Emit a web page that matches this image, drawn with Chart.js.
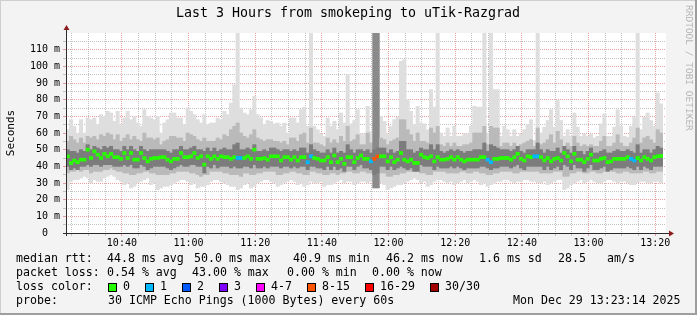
<!DOCTYPE html>
<html>
<head>
<meta charset="utf-8">
<script src="https://cdn.jsdelivr.net/npm/chart.js@4.4.1/dist/chart.umd.min.js"></script>
<style>
  html, body { margin: 0; padding: 0; background: #f3f3f3; }
  canvas { display: block; }
</style>
</head>
<body>
<canvas id="smoke" width="697" height="315"></canvas>
<script>
// one column per minute, last 3 hours ending 13:23:14
const endTime = '13:23:14';
const spanMinutes = 180;

const medianRtt = [
  46,42,43.5,42.5,44,44,50,45,49,47,
  45,47.5,46,47.5,45.5,45.5,44.5,48,45,48,
  44,44,48,45,43,44.5,45,45,45.5,45.5,
  44,43,44.5,44.5,48,45.5,45.5,46,48,45,
  46,41,46,44.5,46,44.5,46,45.5,45.5,44.5,
  45.5,45,45,45,46,44.5,50,44.5,44.5,45,
  44,46,46,46,43.5,45.5,45.5,44,45.5,43.5,
  45.5,45.5,42.5,46,45,44.5,43.5,43.5,45.5,42.5,
  46.5,42.5,44.5,41.5,45.5,45.5,42.5,45,46.5,44.5,
  44.5,43,44.5,46,46,46,43,45.5,42.5,44,
  48,44,43,44,42,42,47,45.5,45,46,
  43,45.5,44,44,44.5,45.5,44,45.5,44,43,
  44,44,44,44,45.5,45.5,44,42.5,44.5,44.5,
  45,45,45,44,45.5,47.5,44.5,43.5,46,45.5,
  46,46,45.5,43.5,45,43,44.5,45,43.5,48,
  46,43,47.5,44,44,42.5,44.5,47,43.5,43.5,
  44.5,45,42.5,43,44.5,44.5,44.5,44.5,45.5,44.5,
  43.5,45,43.5,45.5,44.5,43.5,45.5,46,46.2
];

const pingMax = [
  62,68,64,59.5,68,60,69,68,69,65,
  71,70,73,72,67,73,65,69,73,68,
  70,66,64,74,70,69,68,70,60,66,
  68,72,72,69,69,65,75,73,71,68,
  66,71,65,66,66,69,68,73,71,78,
  89,120,75,72,71,74,82,71,69,65,
  67.5,67,65.5,66,64,66,60,69,69,66,
  74,75.5,64,120,64,62,59.5,58,69,64,
  67,62,72,66,95,65.5,67.5,74,59.5,59.5,
  76,61,120,120,70,67,59.5,64,68,69.5,
  103,104,80,73,65,76,66,65.5,62,86,
  75.5,120,60,58,63,58,64,58,58,59.5,
  59.5,64,76,75.5,75.5,120,60,120,86,86,
  58,64,62,58,62,58,59.5,62,65,68,
  55.5,120,60,63.5,67.5,74,63.5,79.5,67.5,58,
  62,58,72,63.5,58,59.5,58,59.5,57,58,
  65.5,71.5,58,58,63.5,74,64,58,57.5,64,
  69.5,120,62,69.5,72,67.5,64,84,77.5
];

const pingMin = [
  26,31,32,32,33,34,33,30,32,31,
  31,33,34,35,34,32,31,29,30,27,
  28,30,31,32,33,29,30,26,27,28,
  28,29,30,31,32,32,31,29,30,27,
  28,28,29,31,32,32,31,30,29,28,
  28,26,27,29,30,27,28,30,31,32,
  32,31,30,28,29,30,31,32,31,29,
  30,28,29,31,30,30,31,28,29,29,
  30,31,32,30,31,31,29,30,31,31,
  30,31,27,27,30,29,26,27,28,29,
  29,30,31,32,33,32,30,31,28,29,
  31,32,32,31,30,31,29,30,31,32,
  30,31,32,31,29,30,28,29,30,31,
  31,32,32,31,30,31,31,32,32,31,
  31,30,30,31,29,30,31,32,32,26,
  27,29,30,31,32,30,31,32,31,30,
  30,31,32,32,31,30,31,31,30,29,
  29,30,31,31,30,30,31,31,30
];

const midHi = [
  55,58,56,54,57,54,58,57,58,56,
  59,58,60,59,56,59,55,57,59,56,
  58,56,55,60,57,57,56,57,53,55,
  56,58,58,57,57,55,60,59,58,56,
  55,57,55,55,55,57,56,59,58,62,
  64,66,60,58,57,59,62,57,56,55,
  56,56,55,55,54,55,53,57,57,55,
  59,60,54,63,54,54,53,52,57,54,
  56,54,58,55,64,55,56,59,53,53,
  60,54,120,120,57,56,53,55,56,57,
  68,68,62,59,55,60,55,55,54,63,
  60,64,53,52,54,52,54,52,52,53,
  53,54,60,60,60,64,53,64,63,63,
  52,54,54,52,54,52,53,54,55,56,
  52,63,53,54,56,59,54,61,56,52,
  54,52,58,54,52,53,52,53,52,52,
  55,58,52,52,54,59,54,52,52,54,
  57,63,54,57,58,56,54,62,60
];

const midLo = [
  36,37,37,38,37,38,38,36,37,37,
  37,38,38,39,38,37,37,36,36,35,
  35,36,36,37,37,36,36,35,35,35,
  35,36,36,37,37,37,37,36,36,35,
  34,35,35,37,37,37,37,36,36,35,
  35,35,34,36,36,35,35,36,36,37,
  37,37,37,35,35,36,36,37,37,36,
  36,35,35,37,37,36,36,35,35,36,
  36,35,36,36,37,37,36,36,37,37,
  36,36,27,27,36,36,34,34,35,35,
  36,36,37,37,37,37,36,36,35,35,
  37,37,37,37,36,36,36,36,37,37,
  36,36,37,37,36,36,35,35,36,36,
  37,37,37,37,36,36,37,37,37,37,
  37,37,36,36,36,36,37,37,37,34,
  34,36,36,37,37,36,36,37,37,36,
  36,37,37,37,37,36,36,37,37,36,
  36,36,36,37,37,36,36,37,37
];

const coreHi = [
  50,49,49,48,50,49,53,50,52,51,
  50,52,51,52,50,50,49,52,50,52,
  50,49,52,50,49,50,50,50,50,50,
  49,48,50,50,52,50,50,51,52,50,
  50,49,51,49,51,49,50,51,50,50,
  53,54,50,50,51,50,53,49,49,50,
  49,51,51,50,49,50,50,49,50,49,
  51,51,48,53,50,49,48,48,50,48,
  51,48,49,48,53,50,48,50,50,49,
  50,48,50,51,51,51,48,50,48,49,
  55,55,50,50,48,49,51,50,50,53,
  50,53,49,48,49,50,49,50,49,48,
  49,49,50,50,50,54,49,53,52,51,
  50,50,50,49,50,52,49,48,50,50,
  50,54,50,48,50,49,49,51,48,52,
  50,48,52,49,49,47,49,51,48,48,
  49,50,48,48,49,50,49,49,50,49,
  48,53,48,50,50,48,50,52,51
];

const coreLo = [
  40,38,39,38,40,40,41,40,41,41,
  40,41,41,41,40,40,40,41,40,41,
  39,39,41,40,38,39,40,40,40,40,
  39,38,39,40,41,40,40,41,41,40,
  40,36,40,39,41,39,40,40,40,39,
  40,39,39,40,40,39,41,39,39,40,
  39,40,40,40,39,40,40,39,40,39,
  40,40,38,40,40,39,39,38,40,38,
  40,38,39,37,40,40,38,40,41,39,
  39,38,35,36,40,40,38,40,38,39,
  40,39,38,39,37,37,41,40,40,40,
  38,40,39,39,39,40,39,40,39,38,
  39,39,39,39,40,40,39,38,39,39,
  40,40,40,39,40,41,39,38,40,40,
  40,40,40,38,40,38,39,40,38,41,
  40,38,41,39,39,37,39,41,38,38,
  39,40,37,38,39,39,39,39,40,39,
  38,40,38,40,39,38,40,40,40
];

// pings lost out of 30 in each column
const lostPings = [
  0,0,0,0,0,0,0,0,0,0,
  0,0,0,0,0,0,0,0,0,0,
  0,0,0,0,0,0,0,0,0,0,
  0,0,0,0,0,0,0,0,0,0,
  0,0,0,0,0,0,0,0,0,0,
  0,1,1,0,0,0,0,0,0,0,
  0,0,0,0,0,0,0,0,0,0,
  0,0,1,1,0,0,0,0,0,0,
  0,0,0,0,0,0,0,0,0,0,
  0,1,13,10,0,0,0,0,0,0,
  0,0,0,0,0,0,0,0,0,0,
  0,0,0,0,0,0,0,0,0,0,
  0,0,0,0,0,0,1,1,0,0,
  0,0,0,0,0,0,0,0,0,0,
  1,1,0,0,0,0,0,0,0,0,
  0,0,0,0,0,0,0,0,0,0,
  0,0,0,0,0,0,0,0,0,1,
  1,0,0,0,0,0,0,0,0
];

const timeLabels = ['10:40','11:00','11:20','11:40','12:00','12:20','12:40','13:00','13:20'];
const yValues = [0,10,20,30,40,50,60,70,80,90,100,110];
const yLabels = ['0  ','10 m','20 m','30 m','40 m','50 m','60 m','70 m','80 m','90 m','100 m','110 m'];

const lossNames  = ['0','1','2','3','4-7','8-15','16-29','30/30'];
const lossLimits = [0, 1, 2, 3, 7, 15, 29, 30];
const lossColors = ['#26ff00','#00b8ff','#0059ff','#7e00ff','#ff00ff','#ff5500','#ff0000','#a10000'];

const title = 'Last 3 Hours from smokeping to uTik-Razgrad';
const rttStats  = ['44.8 ms avg','50.0 ms max','40.9 ms min','46.2 ms now','1.6 ms sd','28.5','am/s'];
const lossStats = ['0.54 % avg','43.00 % max','0.00 % min','0.00 % now'];
const probeText = '30 ICMP Echo Pings (1000 Bytes) every 60s';
const stampText = 'Mon Dec 29 13:23:14 2025';

// --- helpers ---
const toMin = s => { const p = s.split(':').map(Number); return p[0] * 60 + p[1] + (p[2] || 0) / 60; };
const startMin = toMin(endTime) - spanMinutes;
const lossColor = n => lossColors[lossLimits.findIndex(l => n <= l)];

const colX = medianRtt.map((_, i) => i + 0.5);
const band = (lo, hi) => colX.map((x, i) => ({ x, y: [lo[i], hi[i]] }));

// x grid every 5 minutes, labelled every 20
const xTicks = [];
for (let m = Math.ceil(startMin / 5) * 5; m <= startMin + spanMinutes; m += 5) {
  const hh = Math.floor(m / 60), mm = m % 60;
  const lbl = hh + ':' + String(mm).padStart(2, '0');
  xTicks.push({ value: m - startMin, label: timeLabels.includes(lbl) ? lbl : '' });
}
const yTicks = [];
for (let v = 0; v <= 115; v += 5) yTicks.push(v);

const mono = 'DejaVu Sans Mono';
const pink = 'rgba(222,120,120,0.7)';
const grey = 'rgba(185,185,185,0.85)';

const barCommon = {
  type: 'bar',
  grouped: false,
  barPercentage: 1,
  categoryPercentage: 1,
  borderWidth: 0
};

const decor = {
  id: 'decor',
  beforeDraw(chart) {
    const { ctx, chartArea: a } = chart;
    ctx.save();
    ctx.fillStyle = '#f3f3f3';
    ctx.fillRect(0, 0, 697, 315);
    ctx.fillStyle = '#ffffff';
    ctx.fillRect(a.left, a.top, a.right - a.left, a.bottom - a.top);
    ctx.fillStyle = '#cfcfcf';
    ctx.fillRect(0, 0, 697, 1);
    ctx.fillRect(0, 0, 1, 315);
    ctx.fillStyle = '#9e9e9e';
    ctx.fillRect(695, 0, 2, 315);
    ctx.fillRect(0, 313, 697, 2);
    ctx.restore();
  },
  afterDraw(chart) {
    const { ctx, chartArea: a } = chart;
    ctx.save();

    // axes with arrows
    ctx.strokeStyle = '#2b2b2b';
    ctx.lineWidth = 1;
    ctx.beginPath();
    ctx.moveTo(a.left + 0.5, a.bottom + 3);
    ctx.lineTo(a.left + 0.5, a.top - 4);
    ctx.moveTo(a.left - 3, a.bottom + 0.5);
    ctx.lineTo(a.right + 3, a.bottom + 0.5);
    ctx.stroke();
    ctx.fillStyle = '#8a1c1c';
    ctx.beginPath();
    ctx.moveTo(a.left - 2.5, a.top - 3);
    ctx.lineTo(a.left + 3.5, a.top - 3);
    ctx.lineTo(a.left + 0.5, a.top - 8);
    ctx.closePath();
    ctx.fill();
    ctx.beginPath();
    ctx.moveTo(a.right + 3, a.bottom - 2.5);
    ctx.lineTo(a.right + 3, a.bottom + 3.5);
    ctx.lineTo(a.right + 8, a.bottom + 0.5);
    ctx.closePath();
    ctx.fill();

    ctx.fillStyle = '#000';
    ctx.textBaseline = 'middle';

    // title
    ctx.font = '13.3px "' + mono + '"';
    ctx.textAlign = 'center';
    ctx.fillText(title, 348, 14);

    // y axis title
    ctx.save();
    ctx.translate(11, 133);
    ctx.rotate(-Math.PI / 2);
    ctx.font = '11px "' + mono + '"';
    ctx.fillText('Seconds', 0, 0);
    ctx.restore();

    // watermark
    ctx.save();
    ctx.translate(688, 5);
    ctx.rotate(Math.PI / 2);
    ctx.font = '9.5px "' + mono + '"';
    ctx.fillStyle = '#b4b4b4';
    ctx.textAlign = 'left';
    ctx.fillText('RRDTOOL / TOBI OETIKER', 0, 0);
    ctx.restore();

    // legend block
    ctx.font = '11.6px "' + mono + '"';
    ctx.textAlign = 'left';
    const rows = [259, 273, 287, 301];
    ctx.fillText('median rtt:', 16, rows[0]);
    const rttX = [107, 194, 293, 386, 479, 558, 607];
    rttStats.forEach((t, i) => ctx.fillText(t, rttX[i], rows[0]));
    ctx.fillText('packet loss:', 16, rows[1]);
    const lossX = [107, 192, 287, 372];
    lossStats.forEach((t, i) => ctx.fillText(t, lossX[i], rows[1]));
    ctx.fillText('loss color:', 16, rows[2]);
    const boxX = [108, 145, 182, 219, 256, 307, 365, 430];
    lossNames.forEach((t, i) => {
      ctx.fillStyle = lossColors[i];
      ctx.fillRect(boxX[i], rows[2] - 4, 8, 8);
      ctx.strokeStyle = '#000';
      ctx.strokeRect(boxX[i] + 0.5, rows[2] - 3.5, 8, 8);
      ctx.fillStyle = '#000';
      ctx.fillText(t, boxX[i] + 15, rows[2]);
    });
    ctx.fillText('probe:', 16, rows[3]);
    ctx.fillText(probeText, 108, rows[3]);
    ctx.fillText(stampText, 513, rows[3]);

    ctx.restore();
  }
};

new Chart(document.getElementById('smoke').getContext('2d'), {
  type: 'bar',
  data: {
    datasets: [
      {
        ...barCommon,
        label: 'median',
        order: 0,
        data: colX.map((x, i) => ({ x, y: [medianRtt[i] - 0.9, medianRtt[i] + 0.9] })),
        backgroundColor: c => lossColor(lostPings[c.dataIndex])
      },
      { ...barCommon, label: 'core', order: 1, data: band(coreLo, coreHi), backgroundColor: '#7c7c7c' },
      {
        ...barCommon,
        label: 'mid',
        order: 2,
        data: band(midLo, midHi),
        backgroundColor: c => lostPings[c.dataIndex] >= 8 ? '#8a8a8a' : '#bababa'
      },
      { ...barCommon, label: 'range', order: 3, data: band(pingMin, pingMax), backgroundColor: '#dedede' }
    ]
  },
  options: {
    responsive: false,
    animation: false,
    events: [],
    layout: { padding: { top: 33, right: 31, bottom: 0, left: 0 } },
    plugins: { legend: { display: false }, tooltip: { enabled: false }, title: { display: false } },
    scales: {
      x: {
        type: 'linear',
        position: 'bottom',
        min: 0,
        max: spanMinutes,
        offset: false,
        z: 1,
        afterBuildTicks: s => { s.ticks = xTicks.map(t => ({ value: t.value })); },
        afterFit: s => { s.height = 82; },
        grid: {
          offset: false,
          color: c => (xTicks[c.index] && xTicks[c.index].label ? pink : grey),
          tickLength: 3
        },
        border: { display: false, dash: [1, 1] },
        ticks: {
          autoSkip: false,
          maxRotation: 0,
          padding: 1,
          color: '#000',
          font: { family: mono, size: 10 },
          callback: (v, i) => xTicks[i] ? xTicks[i].label : ''
        }
      },
      y: {
        type: 'linear',
        min: 0,
        max: 120,
        z: 1,
        afterBuildTicks: s => { s.ticks = yTicks.map(v => ({ value: v })); },
        afterFit: s => { s.width = 66; },
        grid: {
          color: c => (c.tick && c.tick.value === 0 ? 'rgba(0,0,0,0)' : (c.tick && c.tick.value % 10 === 0 ? pink : grey)),
          tickLength: 3
        },
        border: { display: false, dash: [1, 1] },
        ticks: {
          autoSkip: false,
          padding: 3,
          color: '#000',
          font: { family: mono, size: 10 },
          callback: v => { const k = yValues.indexOf(v); return k >= 0 ? yLabels[k] : ''; }
        }
      }
    }
  },
  plugins: [decor]
});
</script>
</body>
</html>
